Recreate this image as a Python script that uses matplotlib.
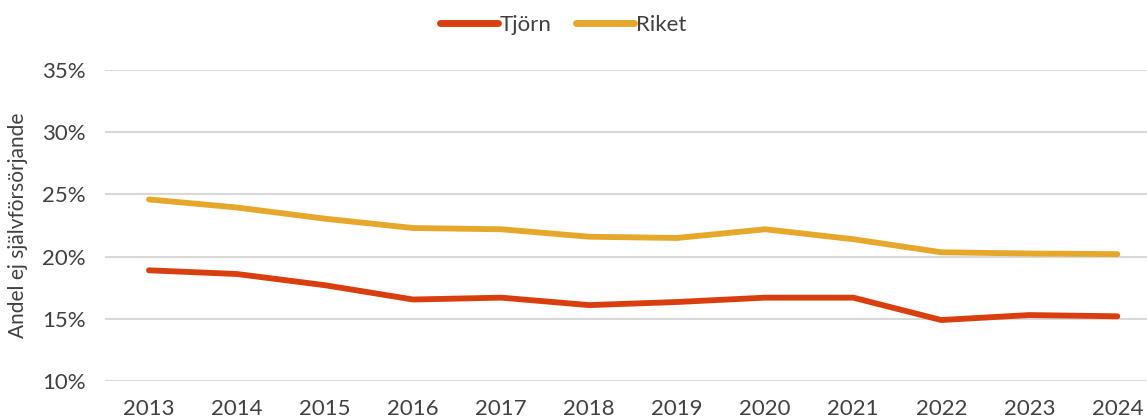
import matplotlib
matplotlib.use("Agg")
import matplotlib.pyplot as plt
from matplotlib.ticker import FuncFormatter

plt.rcParams['font.family'] = ['Lato', 'DejaVu Sans']

years = ["2013", "2014", "2015", "2016", "2017", "2018",
         "2019", "2020", "2021", "2022", "2023", "2024"]
tjorn = [18.9, 18.6, 17.7, 16.55, 16.7, 16.1, 16.35, 16.7, 16.7, 14.9, 15.3, 15.2]
riket = [24.6, 23.95, 23.05, 22.3, 22.2, 21.6, 21.5, 22.2, 21.4, 20.35, 20.25, 20.2]
yticks = [10, 15, 20, 25, 30, 35]

text_color = "#404040"
tjorn_color = "#D93F0E"
riket_color = "#E6A82A"

fig = plt.figure(figsize=(11.47, 4.20), dpi=100)
ax = fig.add_axes([0.0915, 0.093, 0.921, 0.740])

x = list(range(len(years)))
ax.plot(x, tjorn, color=tjorn_color, lw=4.2, solid_capstyle='round',
        solid_joinstyle='round', label="Tjörn", zorder=3)
ax.plot(x, riket, color=riket_color, lw=4.2, solid_capstyle='round',
        solid_joinstyle='round', label="Riket", zorder=3)

ax.set_xlim(-0.5, len(years) - 0.5)
ax.set_ylim(10, 35)
ax.set_yticks(yticks)
ax.yaxis.set_major_formatter(FuncFormatter(lambda v, p: f"{v:.0f}%"))
ax.set_xticks(x)
ax.set_xticklabels(years)
ax.grid(axis='y', color='#D9D9D9', lw=1.5)
ax.set_axisbelow(True)
for s in ax.spines.values():
    s.set_visible(False)
ax.tick_params(axis='both', length=0, labelsize=16, colors=text_color)
ax.tick_params(axis='y', pad=14)
ax.tick_params(axis='x', pad=13)

ax.set_ylabel("Andel ej självförsörjande", fontsize=15, color=text_color, labelpad=10)

leg = fig.legend(loc='upper center', bbox_to_anchor=(0.491, 1.012), ncol=2, frameon=False,
                 fontsize=16, handlelength=2.6, handletextpad=0.1, columnspacing=1.1)
for t in leg.get_texts():
    t.set_color(text_color)
for h in leg.legend_handles:
    h.set_linewidth(5)

fig.savefig("out.png", dpi=100)
